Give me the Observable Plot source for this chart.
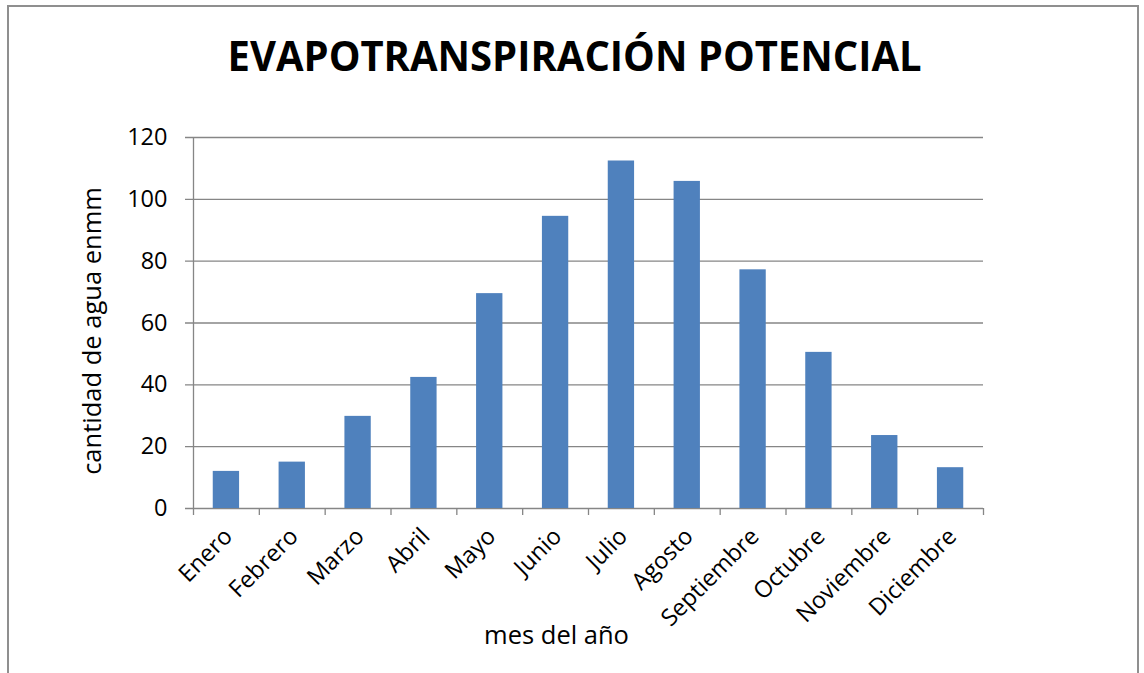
<!DOCTYPE html>
<html>
<head>
<meta charset="utf-8">
<script src="https://cdn.jsdelivr.net/npm/d3@7"></script>
<script src="https://cdn.jsdelivr.net/npm/@observablehq/plot@0.6"></script>
<style>
  html, body { margin: 0; padding: 0; background: #fff; }
  #wrap { position: relative; width: 1144px; height: 673px; overflow: hidden; font-family: "Open Sans", sans-serif; }
  #frame { position: absolute; left: 7px; top: 5px; width: 1132px; height: 720px; border: 2px solid #8f8f8f; box-sizing: border-box; }
  #title { position: absolute; left: 0; top: 34px; width: 1150px; text-align: center; font-weight: bold; font-size: 42px; line-height: 42px; color: #000; white-space: nowrap; }
  #title span { display: inline-block; transform-origin: center; }
  #chart { position: absolute; left: 0; top: 100px; }
</style>
</head>
<body>
<div id="wrap">
  <div id="frame"></div>
  <div id="title"><span id="titleText">EVAPOTRANSPIRACIÓN POTENCIAL</span></div>
  <div id="chart"></div>
</div>
<script>
const months = ["Enero", "Febrero", "Marzo", "Abril", "Mayo", "Junio", "Julio", "Agosto", "Septiembre", "Octubre", "Noviembre", "Diciembre"];
const values = [12.0, 15.0, 29.8, 42.4, 69.5, 94.5, 112.4, 105.8, 77.2, 50.5, 23.6, 13.2];
const yTicks = [0, 20, 40, 60, 80, 100, 120];
const xLabel = "mes del año";
const yLabel = "cantidad de agua enmm";

const data = months.map((m, i) => ({month: m, i, value: values[i]}));

// scale title horizontally to match the narrow original face
const t = document.getElementById("titleText");
const w = t.getBoundingClientRect().width;
t.style.transform = `scaleX(${694 / w})`;

const grid = "#868686";
const chart = Plot.plot({
  width: 1144,
  height: 573,
  marginLeft: 193,
  marginRight: 161,
  marginTop: 37,
  marginBottom: 165,
  style: {fontFamily: "Open Sans, sans-serif", fontSize: "23px", color: "#000", background: "transparent"},
  x: {domain: [0, months.length], axis: null},
  y: {domain: [0, 120], axis: null},
  marks: [
    Plot.ruleY(yTicks, {stroke: grid, strokeWidth: 1.3, insetLeft: -8}),
    Plot.rectY(data, {x1: d => d.i + 0.3, x2: d => d.i + 0.7, y1: 0, y2: "value", fill: "#4f81bd"}),
    Plot.ruleX([0], {y1: 0, y2: 120, stroke: grid, strokeWidth: 1.3}),
    Plot.axisX(d3.range(months.length + 1), {tickSize: 7, tickFormat: () => "", stroke: grid, strokeWidth: 1.3, label: null}),
    Plot.axisY(yTicks, {tickSize: 0, tickPadding: 26, fontSize: 23.5, fill: "#000", label: null}),
    Plot.text(data, {x: d => d.i + 0.5, y: 0, text: "month", rotate: -45, textAnchor: "end", dx: 2, dy: 24, fontSize: 23.5, fill: "#000"}),
    Plot.text([xLabel], {frameAnchor: "bottom", text: d => d, dx: -32, dy: 135, fontSize: 25.5, fill: "#000"}),
    Plot.text([yLabel], {frameAnchor: "left", textAnchor: "middle", text: d => d, rotate: -90, dx: -101, dy: 8, fontSize: 25.5, fill: "#000"})
  ]
});
document.getElementById("chart").appendChild(chart);
</script>
</body>
</html>
